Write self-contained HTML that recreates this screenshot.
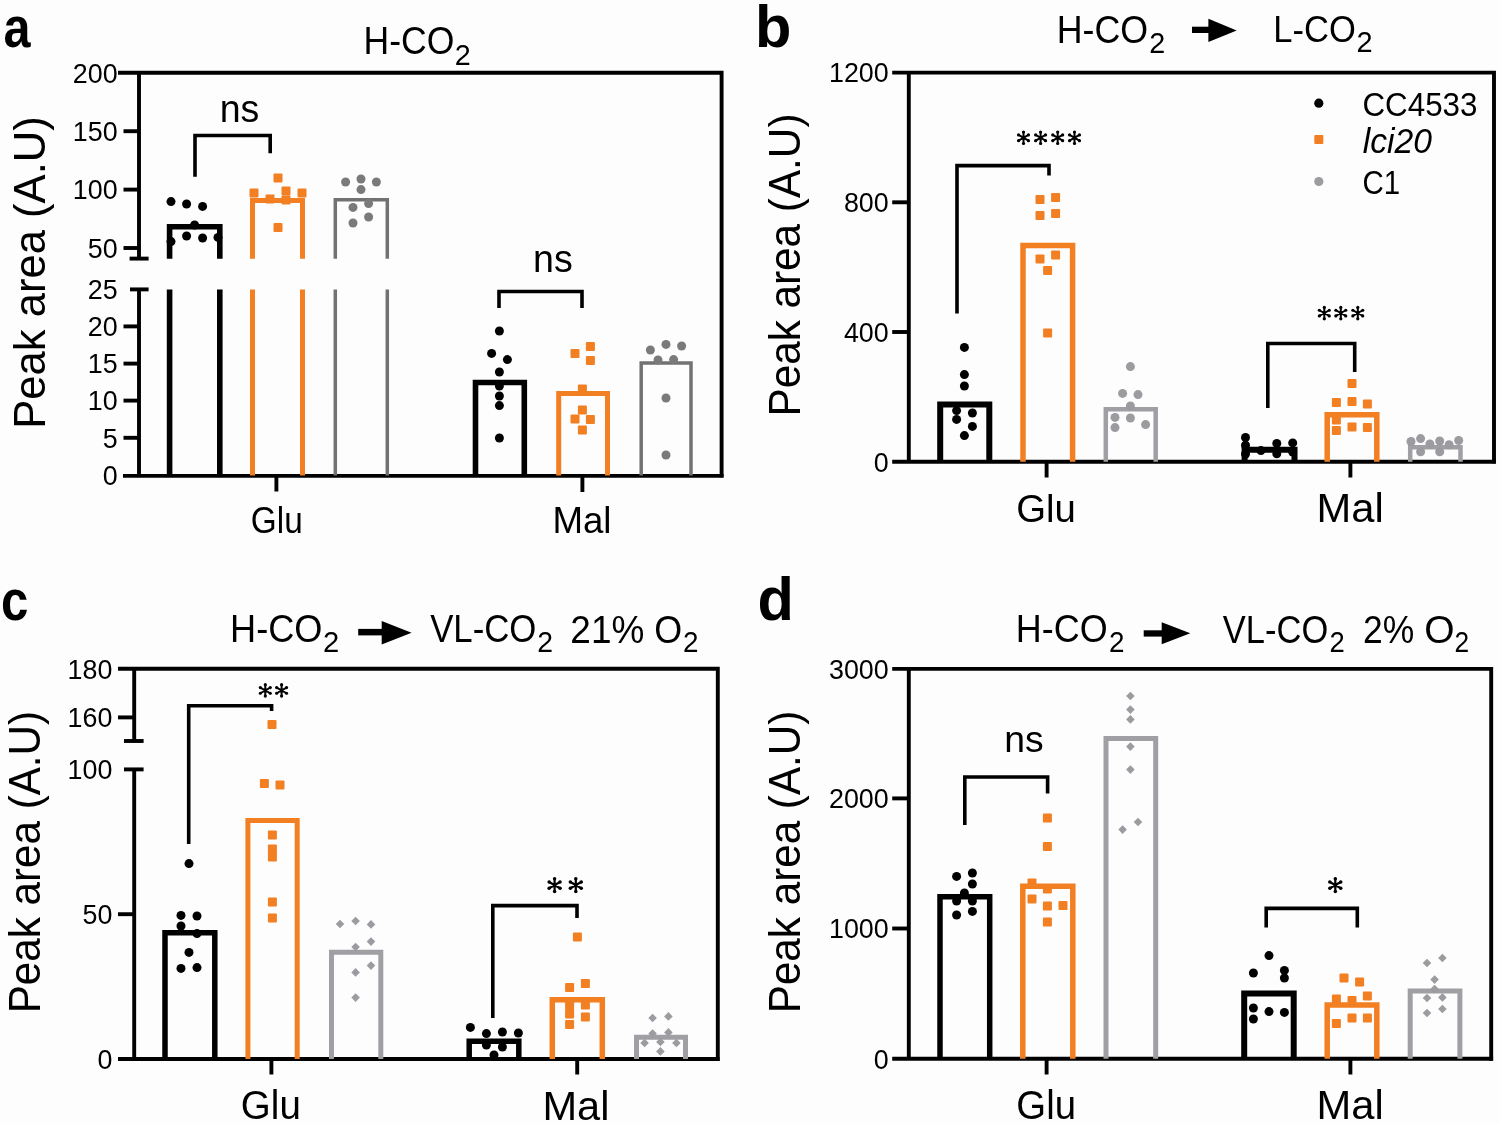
<!DOCTYPE html>
<html><head><meta charset="utf-8"><style>
html,body{margin:0;padding:0;background:#fdfdfd;}
svg{display:block;will-change:transform;}
text{font-family:"Liberation Sans",sans-serif;font-kerning:none;font-variant-ligatures:none;}
</style></head><body>
<svg width="1500" height="1124" viewBox="0 0 1500 1124">
<rect width="1500" height="1124" fill="#fdfdfd"/>
<text transform="translate(3.48 47.3) scale(0.8375 1)" font-size="58" font-weight="bold" fill="#000000">a</text>
<text transform="translate(363.58 54.12) scale(0.9184 1)" font-size="38.7" fill="#000000">H-CO</text>
<text transform="translate(454.85 64.7) scale(0.9603 1)" font-size="29.94" fill="#000000">2</text>
<text transform="translate(44.96 425.3) rotate(-90) scale(0.9735 1)" x="-3.67" font-size="44.8" fill="#000000">Peak area (A.U)</text>
<polyline points="118,72.8 721.6,72.8 721.6,477.3" fill="none" stroke="#000000" stroke-width="3.9" stroke-linejoin="miter" stroke-linecap="butt"/>
<line x1="139" y1="72.8" x2="139" y2="258.6" stroke="#000000" stroke-width="3.9"/>
<line x1="139" y1="289.4" x2="139" y2="475.9" stroke="#000000" stroke-width="3.9"/>
<line x1="123" y1="475.9" x2="723.6" y2="475.9" stroke="#000000" stroke-width="3.9"/>
<line x1="129.6" y1="258.6" x2="148.6" y2="258.6" stroke="#000000" stroke-width="3.9"/>
<line x1="130" y1="289.4" x2="148.6" y2="289.4" stroke="#000000" stroke-width="3.9"/>
<text transform="translate(72.82 82.6) scale(0.9770 1)" font-size="27.5" fill="#000000">200</text>
<line x1="123.5" y1="131.2" x2="139" y2="131.2" stroke="#000000" stroke-width="3.9"/>
<text transform="translate(72.82 141) scale(0.9770 1)" font-size="27.5" fill="#000000">150</text>
<line x1="123.5" y1="189.6" x2="139" y2="189.6" stroke="#000000" stroke-width="3.9"/>
<text transform="translate(72.82 199.4) scale(0.9770 1)" font-size="27.5" fill="#000000">100</text>
<line x1="123.5" y1="248" x2="139" y2="248" stroke="#000000" stroke-width="3.9"/>
<text transform="translate(87.76 257.8) scale(0.9770 1)" font-size="27.5" fill="#000000">50</text>
<text transform="translate(87.84 299.2) scale(0.9770 1)" font-size="27.5" fill="#000000">25</text>
<line x1="123.5" y1="326.4" x2="139" y2="326.4" stroke="#000000" stroke-width="3.9"/>
<text transform="translate(87.76 336.2) scale(0.9770 1)" font-size="27.5" fill="#000000">20</text>
<line x1="123.5" y1="363.6" x2="139" y2="363.6" stroke="#000000" stroke-width="3.9"/>
<text transform="translate(87.84 373.4) scale(0.9770 1)" font-size="27.5" fill="#000000">15</text>
<line x1="123.5" y1="400.6" x2="139" y2="400.6" stroke="#000000" stroke-width="3.9"/>
<text transform="translate(87.76 410.4) scale(0.9770 1)" font-size="27.5" fill="#000000">10</text>
<line x1="123.5" y1="437.8" x2="139" y2="437.8" stroke="#000000" stroke-width="3.9"/>
<text transform="translate(102.79 447.6) scale(0.9770 1)" font-size="27.5" fill="#000000">5</text>
<text transform="translate(102.71 485.4) scale(0.9770 1)" font-size="27.5" fill="#000000">0</text>
<line x1="276.4" y1="475.6" x2="276.4" y2="491.5" stroke="#000000" stroke-width="3.9"/>
<line x1="582.4" y1="475.6" x2="582.4" y2="492" stroke="#000000" stroke-width="3.9"/>
<text transform="translate(250.82 532.9) scale(0.9222 1)" font-size="36.16" fill="#000000">Glu</text>
<text transform="translate(552.39 533) scale(1.0098 1)" font-size="36.3" fill="#000000">Mal</text>
<polyline points="169.6,258.8 169.6,226.8 219.8,226.8 219.8,258.8" fill="none" stroke="#000000" stroke-width="5.6" stroke-linejoin="miter" stroke-linecap="butt"/>
<line x1="169.6" y1="289.4" x2="169.6" y2="475.6" stroke="#000000" stroke-width="5.6"/>
<line x1="219.8" y1="289.4" x2="219.8" y2="475.6" stroke="#000000" stroke-width="5.6"/>
<polyline points="252.5,258.8 252.5,200.5 302.5,200.5 302.5,258.8" fill="none" stroke="#F27F22" stroke-width="5" stroke-linejoin="miter" stroke-linecap="butt"/>
<line x1="252.5" y1="289.4" x2="252.5" y2="475.6" stroke="#F27F22" stroke-width="5"/>
<line x1="302.5" y1="289.4" x2="302.5" y2="475.6" stroke="#F27F22" stroke-width="5"/>
<polyline points="335.3,258.8 335.3,199.7 387.3,199.7 387.3,258.8" fill="none" stroke="#727272" stroke-width="3.5" stroke-linejoin="miter" stroke-linecap="butt"/>
<line x1="335.3" y1="289.4" x2="335.3" y2="475.6" stroke="#727272" stroke-width="3.5"/>
<line x1="387.3" y1="289.4" x2="387.3" y2="475.6" stroke="#727272" stroke-width="3.5"/>
<polyline points="475.5,475.6 475.5,382.5 524.3,382.5 524.3,475.6" fill="none" stroke="#000000" stroke-width="5.6" stroke-linejoin="miter" stroke-linecap="butt"/>
<polyline points="558.7,475.6 558.7,393.5 607.5,393.5 607.5,475.6" fill="none" stroke="#F27F22" stroke-width="5" stroke-linejoin="miter" stroke-linecap="butt"/>
<polyline points="641.2,475.6 641.2,363 691,363 691,475.6" fill="none" stroke="#727272" stroke-width="3.5" stroke-linejoin="miter" stroke-linecap="butt"/>
<circle cx="171" cy="201.6" r="4.5" fill="#000000"/>
<circle cx="186.6" cy="204" r="4.5" fill="#000000"/>
<circle cx="202.6" cy="206.4" r="4.5" fill="#000000"/>
<circle cx="194.6" cy="225" r="4.5" fill="#000000"/>
<circle cx="186.6" cy="236" r="4.5" fill="#000000"/>
<circle cx="202.6" cy="238" r="4.5" fill="#000000"/>
<circle cx="171" cy="241.6" r="4.5" fill="#000000"/>
<circle cx="218" cy="237.4" r="4.5" fill="#000000"/>
<rect x="273.5" y="173.5" width="9" height="9" rx="1" fill="#F27F22"/>
<rect x="281.5" y="186.5" width="9" height="9" rx="1" fill="#F27F22"/>
<rect x="249.5" y="188.5" width="9" height="9" rx="1" fill="#F27F22"/>
<rect x="297.5" y="188.5" width="9" height="9" rx="1" fill="#F27F22"/>
<rect x="265.5" y="194.5" width="9" height="9" rx="1" fill="#F27F22"/>
<rect x="281.5" y="195.5" width="9" height="9" rx="1" fill="#F27F22"/>
<rect x="273.5" y="223.1" width="9" height="9" rx="1" fill="#F27F22"/>
<circle cx="345.6" cy="182" r="4.5" fill="#7a7a7a"/>
<circle cx="361" cy="179" r="4.5" fill="#7a7a7a"/>
<circle cx="376.4" cy="182" r="4.5" fill="#7a7a7a"/>
<circle cx="361" cy="189.6" r="4.5" fill="#7a7a7a"/>
<circle cx="353" cy="207.4" r="4.5" fill="#7a7a7a"/>
<circle cx="368.6" cy="203.6" r="4.5" fill="#7a7a7a"/>
<circle cx="368.6" cy="217" r="4.5" fill="#7a7a7a"/>
<circle cx="353" cy="223" r="4.5" fill="#7a7a7a"/>
<circle cx="499.4" cy="331" r="4.5" fill="#000000"/>
<circle cx="491.6" cy="353.4" r="4.5" fill="#000000"/>
<circle cx="507.4" cy="359.6" r="4.5" fill="#000000"/>
<circle cx="499.4" cy="372" r="4.5" fill="#000000"/>
<circle cx="499.4" cy="386" r="4.5" fill="#000000"/>
<circle cx="499.4" cy="396" r="4.5" fill="#000000"/>
<circle cx="499.4" cy="405.6" r="4.5" fill="#000000"/>
<circle cx="499.4" cy="438" r="4.5" fill="#000000"/>
<rect x="585.9" y="341.9" width="9" height="9" rx="1" fill="#F27F22"/>
<rect x="570.5" y="349.1" width="9" height="9" rx="1" fill="#F27F22"/>
<rect x="585.9" y="355.9" width="9" height="9" rx="1" fill="#F27F22"/>
<rect x="577.9" y="384.5" width="9" height="9" rx="1" fill="#F27F22"/>
<rect x="577.9" y="405.5" width="9" height="9" rx="1" fill="#F27F22"/>
<rect x="570.5" y="414.5" width="9" height="9" rx="1" fill="#F27F22"/>
<rect x="585.9" y="415.1" width="9" height="9" rx="1" fill="#F27F22"/>
<rect x="577.9" y="425.5" width="9" height="9" rx="1" fill="#F27F22"/>
<circle cx="650.4" cy="350" r="4.5" fill="#7a7a7a"/>
<circle cx="666" cy="344.4" r="4.5" fill="#7a7a7a"/>
<circle cx="681.6" cy="346" r="4.5" fill="#7a7a7a"/>
<circle cx="658" cy="360" r="4.5" fill="#7a7a7a"/>
<circle cx="673.6" cy="359.6" r="4.5" fill="#7a7a7a"/>
<circle cx="666" cy="398" r="4.5" fill="#7a7a7a"/>
<circle cx="666" cy="455" r="4.5" fill="#7a7a7a"/>
<polyline points="195,176.7 195,135.5 270.2,135.5 270.2,153.3" fill="none" stroke="#000000" stroke-width="3.6" stroke-linejoin="miter" stroke-linecap="butt"/>
<text transform="translate(219.71 122) scale(0.9659 1)" font-size="38.87" fill="#000000">ns</text>
<polyline points="499,308 499,291.5 582,291.5 582,308" fill="none" stroke="#000000" stroke-width="3.6" stroke-linejoin="miter" stroke-linecap="butt"/>
<text transform="translate(533.01 271.8) scale(0.9704 1)" font-size="38.69" fill="#000000">ns</text>
<text transform="translate(755.08 47.4) scale(0.9939 1)" font-size="59.9" font-weight="bold" fill="#000000">b</text>
<text transform="translate(1056.66 42.53) scale(0.9420 1)" font-size="37.99" fill="#000000">H-CO</text>
<text transform="translate(1149.35 52.9) scale(0.9512 1)" font-size="30.23" fill="#000000">2</text>
<rect x="1192" y="26.7" width="17.3" height="6.3" fill="#000"/>
<path d="M1208.4 18.7L1236.7 30.4L1208.4 42.1Z" fill="#000"/>
<text transform="translate(1273.37 42.43) scale(0.9121 1)" font-size="37.85" fill="#000000">L-CO</text>
<text transform="translate(1356.54 52.4) scale(0.9914 1)" font-size="29.23" fill="#000000">2</text>
<text transform="translate(800.16 413.1) rotate(-90) scale(0.9436 1)" x="-3.67" font-size="44.8" fill="#000000">Peak area (A.U)</text>
<polyline points="892.2,72.6 1494,72.6 1494,463.6" fill="none" stroke="#000000" stroke-width="3.9" stroke-linejoin="miter" stroke-linecap="butt"/>
<line x1="908.8" y1="72.6" x2="908.8" y2="461.8" stroke="#000000" stroke-width="3.9"/>
<line x1="892.2" y1="461.8" x2="1495.8" y2="461.8" stroke="#000000" stroke-width="3.9"/>
<text transform="translate(828.98 82.4) scale(0.9770 1)" font-size="27.5" fill="#000000">1200</text>
<line x1="892.2" y1="202.3" x2="908.8" y2="202.3" stroke="#000000" stroke-width="3.9"/>
<text transform="translate(843.92 212.1) scale(0.9770 1)" font-size="27.5" fill="#000000">800</text>
<line x1="892.2" y1="332" x2="908.8" y2="332" stroke="#000000" stroke-width="3.9"/>
<text transform="translate(843.92 341.8) scale(0.9770 1)" font-size="27.5" fill="#000000">400</text>
<text transform="translate(873.81 471.6) scale(0.9770 1)" font-size="27.5" fill="#000000">0</text>
<line x1="1046.6" y1="461.8" x2="1046.6" y2="477.5" stroke="#000000" stroke-width="3.9"/>
<line x1="1350.4" y1="461.8" x2="1350.4" y2="477.5" stroke="#000000" stroke-width="3.9"/>
<text transform="translate(1016.17 522.1) scale(0.9716 1)" font-size="39.47" fill="#000000">Glu</text>
<text transform="translate(1316.48 522.1) scale(1.0495 1)" font-size="39.75" fill="#000000">Mal</text>
<polyline points="940.2,461.8 940.2,404.5 989.3,404.5 989.3,461.8" fill="none" stroke="#000000" stroke-width="6" stroke-linejoin="miter" stroke-linecap="butt"/>
<polyline points="1023,461.8 1023,245.4 1072.6,245.4 1072.6,461.8" fill="none" stroke="#F27F22" stroke-width="5.5" stroke-linejoin="miter" stroke-linecap="butt"/>
<polyline points="1105.8,461.8 1105.8,409.3 1155.7,409.3 1155.7,461.8" fill="none" stroke="#A0A0A4" stroke-width="4.5" stroke-linejoin="miter" stroke-linecap="butt"/>
<polyline points="1244.6,461.8 1244.6,449.8 1294.5,449.8 1294.5,461.8" fill="none" stroke="#000000" stroke-width="6" stroke-linejoin="miter" stroke-linecap="butt"/>
<polyline points="1327.2,461.8 1327.2,414.8 1376.8,414.8 1376.8,461.8" fill="none" stroke="#F27F22" stroke-width="5.5" stroke-linejoin="miter" stroke-linecap="butt"/>
<polyline points="1410.2,461.8 1410.2,447.3 1460.5,447.3 1460.5,461.8" fill="none" stroke="#A0A0A4" stroke-width="4.5" stroke-linejoin="miter" stroke-linecap="butt"/>
<circle cx="964.4" cy="347.4" r="4.5" fill="#000000"/>
<circle cx="964.4" cy="374.6" r="4.5" fill="#000000"/>
<circle cx="964.4" cy="386" r="4.5" fill="#000000"/>
<circle cx="956.6" cy="410.6" r="4.5" fill="#000000"/>
<circle cx="972.4" cy="413" r="4.5" fill="#000000"/>
<circle cx="956.6" cy="419.4" r="4.5" fill="#000000"/>
<circle cx="972.4" cy="426.4" r="4.5" fill="#000000"/>
<circle cx="964.4" cy="435.6" r="4.5" fill="#000000"/>
<rect x="1035.5" y="195.1" width="9" height="9" rx="1" fill="#F27F22"/>
<rect x="1051.1" y="193.1" width="9" height="9" rx="1" fill="#F27F22"/>
<rect x="1035.5" y="210.9" width="9" height="9" rx="1" fill="#F27F22"/>
<rect x="1051.1" y="209.1" width="9" height="9" rx="1" fill="#F27F22"/>
<rect x="1035.5" y="254.5" width="9" height="9" rx="1" fill="#F27F22"/>
<rect x="1051.1" y="250.5" width="9" height="9" rx="1" fill="#F27F22"/>
<rect x="1043.1" y="265.9" width="9" height="9" rx="1" fill="#F27F22"/>
<rect x="1043.1" y="328.5" width="9" height="9" rx="1" fill="#F27F22"/>
<circle cx="1130.4" cy="366.6" r="4.5" fill="#9C9CA0"/>
<circle cx="1122.6" cy="393.4" r="4.5" fill="#9C9CA0"/>
<circle cx="1138" cy="394.6" r="4.5" fill="#9C9CA0"/>
<circle cx="1130.4" cy="406" r="4.5" fill="#9C9CA0"/>
<circle cx="1115" cy="417.4" r="4.5" fill="#9C9CA0"/>
<circle cx="1130.4" cy="418" r="4.5" fill="#9C9CA0"/>
<circle cx="1145.6" cy="424.6" r="4.5" fill="#9C9CA0"/>
<circle cx="1115" cy="427.6" r="4.5" fill="#9C9CA0"/>
<circle cx="1245.5" cy="437.5" r="4.5" fill="#000000"/>
<circle cx="1245.5" cy="445.3" r="4.5" fill="#000000"/>
<circle cx="1245.5" cy="454" r="4.5" fill="#000000"/>
<circle cx="1260.9" cy="450.6" r="4.5" fill="#000000"/>
<circle cx="1276.8" cy="443.4" r="4.5" fill="#000000"/>
<circle cx="1276.8" cy="453.8" r="4.5" fill="#000000"/>
<circle cx="1292.7" cy="442.9" r="4.5" fill="#000000"/>
<circle cx="1292.7" cy="452" r="4.5" fill="#000000"/>
<rect x="1347.5" y="379.1" width="9" height="9" rx="1" fill="#F27F22"/>
<rect x="1331.9" y="397.9" width="9" height="9" rx="1" fill="#F27F22"/>
<rect x="1347.5" y="397.1" width="9" height="9" rx="1" fill="#F27F22"/>
<rect x="1362.9" y="399.5" width="9" height="9" rx="1" fill="#F27F22"/>
<rect x="1331.9" y="415.5" width="9" height="9" rx="1" fill="#F27F22"/>
<rect x="1331.9" y="425.9" width="9" height="9" rx="1" fill="#F27F22"/>
<rect x="1347.5" y="422.5" width="9" height="9" rx="1" fill="#F27F22"/>
<rect x="1362.9" y="423.1" width="9" height="9" rx="1" fill="#F27F22"/>
<circle cx="1411" cy="441.5" r="4.5" fill="#9C9CA0"/>
<circle cx="1420.6" cy="438.6" r="4.5" fill="#9C9CA0"/>
<circle cx="1429.9" cy="443.9" r="4.5" fill="#9C9CA0"/>
<circle cx="1420.6" cy="451.7" r="4.5" fill="#9C9CA0"/>
<circle cx="1439.7" cy="441" r="4.5" fill="#9C9CA0"/>
<circle cx="1439.7" cy="451.7" r="4.5" fill="#9C9CA0"/>
<circle cx="1449.1" cy="444.7" r="4.5" fill="#9C9CA0"/>
<circle cx="1458.7" cy="440.5" r="4.5" fill="#9C9CA0"/>
<polyline points="957,313.6 957,165.6 1049,165.6 1049,175.6" fill="none" stroke="#000000" stroke-width="3.6" stroke-linejoin="miter" stroke-linecap="butt"/>
<circle cx="1023.5" cy="132.1" r="1.6" fill="#000000"/>
<circle cx="1023.5" cy="143.5" r="1.6" fill="#000000"/>
<circle cx="1028.44" cy="134.95" r="1.6" fill="#000000"/>
<circle cx="1018.56" cy="140.65" r="1.6" fill="#000000"/>
<circle cx="1028.44" cy="140.65" r="1.6" fill="#000000"/>
<circle cx="1018.56" cy="134.95" r="1.6" fill="#000000"/>
<path d="M1023.5 143.5L1023.5 132.1M1018.56 140.65L1028.44 134.95M1018.56 134.95L1028.44 140.65" stroke="#000" stroke-width="2" stroke-linecap="round" fill="none"/>
<circle cx="1023.5" cy="137.8" r="1.8" fill="#000000"/>
<circle cx="1040.6" cy="132.1" r="1.6" fill="#000000"/>
<circle cx="1040.6" cy="143.5" r="1.6" fill="#000000"/>
<circle cx="1045.54" cy="134.95" r="1.6" fill="#000000"/>
<circle cx="1035.66" cy="140.65" r="1.6" fill="#000000"/>
<circle cx="1045.54" cy="140.65" r="1.6" fill="#000000"/>
<circle cx="1035.66" cy="134.95" r="1.6" fill="#000000"/>
<path d="M1040.6 143.5L1040.6 132.1M1035.66 140.65L1045.54 134.95M1035.66 134.95L1045.54 140.65" stroke="#000" stroke-width="2" stroke-linecap="round" fill="none"/>
<circle cx="1040.6" cy="137.8" r="1.8" fill="#000000"/>
<circle cx="1057.7" cy="132.1" r="1.6" fill="#000000"/>
<circle cx="1057.7" cy="143.5" r="1.6" fill="#000000"/>
<circle cx="1062.64" cy="134.95" r="1.6" fill="#000000"/>
<circle cx="1052.76" cy="140.65" r="1.6" fill="#000000"/>
<circle cx="1062.64" cy="140.65" r="1.6" fill="#000000"/>
<circle cx="1052.76" cy="134.95" r="1.6" fill="#000000"/>
<path d="M1057.7 143.5L1057.7 132.1M1052.76 140.65L1062.64 134.95M1052.76 134.95L1062.64 140.65" stroke="#000" stroke-width="2" stroke-linecap="round" fill="none"/>
<circle cx="1057.7" cy="137.8" r="1.8" fill="#000000"/>
<circle cx="1074.5" cy="132.1" r="1.6" fill="#000000"/>
<circle cx="1074.5" cy="143.5" r="1.6" fill="#000000"/>
<circle cx="1079.44" cy="134.95" r="1.6" fill="#000000"/>
<circle cx="1069.56" cy="140.65" r="1.6" fill="#000000"/>
<circle cx="1079.44" cy="140.65" r="1.6" fill="#000000"/>
<circle cx="1069.56" cy="134.95" r="1.6" fill="#000000"/>
<path d="M1074.5 143.5L1074.5 132.1M1069.56 140.65L1079.44 134.95M1069.56 134.95L1079.44 140.65" stroke="#000" stroke-width="2" stroke-linecap="round" fill="none"/>
<circle cx="1074.5" cy="137.8" r="1.8" fill="#000000"/>
<polyline points="1267.8,408 1267.8,343.5 1354.7,343.5 1354.7,372" fill="none" stroke="#000000" stroke-width="3.6" stroke-linejoin="miter" stroke-linecap="butt"/>
<circle cx="1324.3" cy="307.4" r="1.6" fill="#000000"/>
<circle cx="1324.3" cy="318.8" r="1.6" fill="#000000"/>
<circle cx="1329.24" cy="310.25" r="1.6" fill="#000000"/>
<circle cx="1319.36" cy="315.95" r="1.6" fill="#000000"/>
<circle cx="1329.24" cy="315.95" r="1.6" fill="#000000"/>
<circle cx="1319.36" cy="310.25" r="1.6" fill="#000000"/>
<path d="M1324.3 318.8L1324.3 307.4M1319.36 315.95L1329.24 310.25M1319.36 310.25L1329.24 315.95" stroke="#000" stroke-width="2" stroke-linecap="round" fill="none"/>
<circle cx="1324.3" cy="313.1" r="1.8" fill="#000000"/>
<circle cx="1340.8" cy="307.4" r="1.6" fill="#000000"/>
<circle cx="1340.8" cy="318.8" r="1.6" fill="#000000"/>
<circle cx="1345.74" cy="310.25" r="1.6" fill="#000000"/>
<circle cx="1335.86" cy="315.95" r="1.6" fill="#000000"/>
<circle cx="1345.74" cy="315.95" r="1.6" fill="#000000"/>
<circle cx="1335.86" cy="310.25" r="1.6" fill="#000000"/>
<path d="M1340.8 318.8L1340.8 307.4M1335.86 315.95L1345.74 310.25M1335.86 310.25L1345.74 315.95" stroke="#000" stroke-width="2" stroke-linecap="round" fill="none"/>
<circle cx="1340.8" cy="313.1" r="1.8" fill="#000000"/>
<circle cx="1357.8" cy="307.4" r="1.6" fill="#000000"/>
<circle cx="1357.8" cy="318.8" r="1.6" fill="#000000"/>
<circle cx="1362.74" cy="310.25" r="1.6" fill="#000000"/>
<circle cx="1352.86" cy="315.95" r="1.6" fill="#000000"/>
<circle cx="1362.74" cy="315.95" r="1.6" fill="#000000"/>
<circle cx="1352.86" cy="310.25" r="1.6" fill="#000000"/>
<path d="M1357.8 318.8L1357.8 307.4M1352.86 315.95L1362.74 310.25M1352.86 310.25L1362.74 315.95" stroke="#000" stroke-width="2" stroke-linecap="round" fill="none"/>
<circle cx="1357.8" cy="313.1" r="1.8" fill="#000000"/>
<circle cx="1318.8" cy="103.2" r="4.6" fill="#000000"/>
<text transform="translate(1362.41 115.7) scale(0.9504 1)" font-size="33" fill="#000000">CC4533</text>
<rect x="1314.3" y="134.9" width="9" height="9" rx="1" fill="#F27F22"/>
<text transform="translate(1362.76 152.6) scale(0.9616 1)" font-size="35" font-style="italic" fill="#000000">lci20</text>
<circle cx="1318.8" cy="181.5" r="4.6" fill="#9C9CA0"/>
<text transform="translate(1362.5 193.7) scale(0.9112 1)" font-size="32.4" fill="#000000">C1</text>
<text transform="translate(1.08 620.4) scale(0.8483 1)" font-size="58" font-weight="bold" fill="#000000">c</text>
<text transform="translate(230.03 642.12) scale(0.9412 1)" font-size="38.42" fill="#000000">H-CO</text>
<text transform="translate(323.03 652.3) scale(0.9612 1)" font-size="30.37" fill="#000000">2</text>
<rect x="358.2" y="628.9" width="24" height="6.5" fill="#000"/>
<path d="M381.7 621L411.6 632.75L381.7 644.5Z" fill="#000"/>
<text transform="translate(430.15 642.22) scale(0.8948 1)" font-size="38.84" fill="#000000">VL-CO</text>
<text transform="translate(537.18 652.2) scale(0.9785 1)" font-size="28.94" fill="#000000">2</text>
<text transform="translate(570.34 642.61) scale(0.9346 1)" font-size="39.55" fill="#000000">21%</text>
<text transform="translate(654.3 642.61) scale(0.9075 1)" font-size="39.55" fill="#000000">O</text>
<text transform="translate(683.1 652) scale(0.9355 1)" font-size="29.8" fill="#000000">2</text>
<text transform="translate(39.56 1009.8) rotate(-90) scale(0.9414 1)" x="-3.67" font-size="44.8" fill="#000000">Peak area (A.U)</text>
<polyline points="118,668.7 717.8,668.7 717.8,1061" fill="none" stroke="#000000" stroke-width="3.9" stroke-linejoin="miter" stroke-linecap="butt"/>
<line x1="134.2" y1="668.7" x2="134.2" y2="741" stroke="#000000" stroke-width="3.9"/>
<line x1="134.2" y1="769.4" x2="134.2" y2="1059" stroke="#000000" stroke-width="3.9"/>
<line x1="118" y1="1059" x2="719.6" y2="1059" stroke="#000000" stroke-width="3.9"/>
<line x1="124" y1="741" x2="143.6" y2="741" stroke="#000000" stroke-width="3.9"/>
<line x1="124" y1="769.4" x2="143.6" y2="769.4" stroke="#000000" stroke-width="3.9"/>
<text transform="translate(67.62 678.5) scale(0.9770 1)" font-size="27.5" fill="#000000">180</text>
<line x1="118" y1="717.4" x2="134.2" y2="717.4" stroke="#000000" stroke-width="3.9"/>
<text transform="translate(67.62 727.2) scale(0.9770 1)" font-size="27.5" fill="#000000">160</text>
<text transform="translate(67.62 779.2) scale(0.9770 1)" font-size="27.5" fill="#000000">100</text>
<line x1="118" y1="914.2" x2="134.2" y2="914.2" stroke="#000000" stroke-width="3.9"/>
<text transform="translate(82.56 924) scale(0.9770 1)" font-size="27.5" fill="#000000">50</text>
<text transform="translate(97.51 1068.8) scale(0.9770 1)" font-size="27.5" fill="#000000">0</text>
<line x1="271.4" y1="1059" x2="271.4" y2="1074.5" stroke="#000000" stroke-width="3.9"/>
<line x1="577.2" y1="1059" x2="577.2" y2="1074.5" stroke="#000000" stroke-width="3.9"/>
<text transform="translate(240.86 1119.2) scale(0.9701 1)" font-size="39.75" fill="#000000">Glu</text>
<text transform="translate(542.49 1119.5) scale(1.0352 1)" font-size="40.16" fill="#000000">Mal</text>
<polyline points="165,1059 165,932.8 214.8,932.8 214.8,1059" fill="none" stroke="#000000" stroke-width="5.5" stroke-linejoin="miter" stroke-linecap="butt"/>
<polyline points="247.9,1059 247.9,820.5 297.2,820.5 297.2,1059" fill="none" stroke="#F27F22" stroke-width="5" stroke-linejoin="miter" stroke-linecap="butt"/>
<polyline points="331.5,1059 331.5,952.3 380.8,952.3 380.8,1059" fill="none" stroke="#A0A0A4" stroke-width="5" stroke-linejoin="miter" stroke-linecap="butt"/>
<polyline points="469.2,1059 469.2,1041.3 518.8,1041.3 518.8,1059" fill="none" stroke="#000000" stroke-width="5.5" stroke-linejoin="miter" stroke-linecap="butt"/>
<polyline points="552.3,1059 552.3,999.8 602.3,999.8 602.3,1059" fill="none" stroke="#F27F22" stroke-width="5.5" stroke-linejoin="miter" stroke-linecap="butt"/>
<polyline points="636.5,1059 636.5,1037.2 685.5,1037.2 685.5,1059" fill="none" stroke="#A0A0A4" stroke-width="5" stroke-linejoin="miter" stroke-linecap="butt"/>
<circle cx="189" cy="863.6" r="4.5" fill="#000000"/>
<circle cx="181" cy="915.4" r="4.5" fill="#000000"/>
<circle cx="197" cy="916" r="4.5" fill="#000000"/>
<circle cx="181" cy="926" r="4.5" fill="#000000"/>
<circle cx="197" cy="933.6" r="4.5" fill="#000000"/>
<circle cx="189" cy="952.4" r="4.5" fill="#000000"/>
<circle cx="181" cy="968.4" r="4.5" fill="#000000"/>
<circle cx="197" cy="967.6" r="4.5" fill="#000000"/>
<rect x="267.5" y="719.9" width="9" height="9" rx="1" fill="#F27F22"/>
<rect x="259.9" y="779.1" width="9" height="9" rx="1" fill="#F27F22"/>
<rect x="275.5" y="780.5" width="9" height="9" rx="1" fill="#F27F22"/>
<rect x="267.9" y="830.5" width="9" height="9" rx="1" fill="#F27F22"/>
<rect x="267.9" y="844.5" width="9" height="9" rx="1" fill="#F27F22"/>
<rect x="267.9" y="852.5" width="9" height="9" rx="1" fill="#F27F22"/>
<rect x="267.9" y="897.5" width="9" height="9" rx="1" fill="#F27F22"/>
<rect x="267.9" y="913.5" width="9" height="9" rx="1" fill="#F27F22"/>
<path d="M340 919.7L344.3 924L340 928.3L335.7 924Z" fill="#9C9CA0"/>
<path d="M355.6 916.7L359.9 921L355.6 925.3L351.3 921Z" fill="#9C9CA0"/>
<path d="M371 920.1L375.3 924.4L371 928.7L366.7 924.4Z" fill="#9C9CA0"/>
<path d="M371 937.3L375.3 941.6L371 945.9L366.7 941.6Z" fill="#9C9CA0"/>
<path d="M355.6 942.7L359.9 947L355.6 951.3L351.3 947Z" fill="#9C9CA0"/>
<path d="M371 961.3L375.3 965.6L371 969.9L366.7 965.6Z" fill="#9C9CA0"/>
<path d="M355.6 968.1L359.9 972.4L355.6 976.7L351.3 972.4Z" fill="#9C9CA0"/>
<path d="M355.6 993.3L359.9 997.6L355.6 1001.9L351.3 997.6Z" fill="#9C9CA0"/>
<circle cx="470.4" cy="1027.4" r="4.5" fill="#000000"/>
<circle cx="486.4" cy="1033.6" r="4.5" fill="#000000"/>
<circle cx="502.4" cy="1032" r="4.5" fill="#000000"/>
<circle cx="518.4" cy="1033" r="4.5" fill="#000000"/>
<circle cx="486.4" cy="1045" r="4.5" fill="#000000"/>
<circle cx="502.4" cy="1047" r="4.5" fill="#000000"/>
<circle cx="494" cy="1055" r="4.5" fill="#000000"/>
<rect x="572.9" y="932.5" width="9" height="9" rx="1" fill="#F27F22"/>
<rect x="565.1" y="982.9" width="9" height="9" rx="1" fill="#F27F22"/>
<rect x="580.9" y="979.1" width="9" height="9" rx="1" fill="#F27F22"/>
<rect x="565.1" y="1001.1" width="9" height="9" rx="1" fill="#F27F22"/>
<rect x="580.9" y="1000.5" width="9" height="9" rx="1" fill="#F27F22"/>
<rect x="565.1" y="1009.5" width="9" height="9" rx="1" fill="#F27F22"/>
<rect x="580.9" y="1012.5" width="9" height="9" rx="1" fill="#F27F22"/>
<rect x="565.1" y="1019.9" width="9" height="9" rx="1" fill="#F27F22"/>
<path d="M652.6 1013.7L656.9 1018L652.6 1022.3L648.3 1018Z" fill="#9C9CA0"/>
<path d="M668.4 1012.1L672.7 1016.4L668.4 1020.7L664.1 1016.4Z" fill="#9C9CA0"/>
<path d="M652.6 1029.3L656.9 1033.6L652.6 1037.9L648.3 1033.6Z" fill="#9C9CA0"/>
<path d="M668.4 1028.1L672.7 1032.4L668.4 1036.7L664.1 1032.4Z" fill="#9C9CA0"/>
<path d="M644.6 1038.7L648.9 1043L644.6 1047.3L640.3 1043Z" fill="#9C9CA0"/>
<path d="M660.4 1037.7L664.7 1042L660.4 1046.3L656.1 1042Z" fill="#9C9CA0"/>
<path d="M676.4 1038.7L680.7 1043L676.4 1047.3L672.1 1043Z" fill="#9C9CA0"/>
<path d="M660.4 1047.1L664.7 1051.4L660.4 1055.7L656.1 1051.4Z" fill="#9C9CA0"/>
<polyline points="188.7,844 188.7,705.8 271.6,705.8 271.6,711" fill="none" stroke="#000000" stroke-width="3.6" stroke-linejoin="miter" stroke-linecap="butt"/>
<circle cx="265.3" cy="684.7" r="1.6" fill="#000000"/>
<circle cx="265.3" cy="696.1" r="1.6" fill="#000000"/>
<circle cx="270.24" cy="687.55" r="1.6" fill="#000000"/>
<circle cx="260.36" cy="693.25" r="1.6" fill="#000000"/>
<circle cx="270.24" cy="693.25" r="1.6" fill="#000000"/>
<circle cx="260.36" cy="687.55" r="1.6" fill="#000000"/>
<path d="M265.3 696.1L265.3 684.7M260.36 693.25L270.24 687.55M260.36 687.55L270.24 693.25" stroke="#000" stroke-width="2" stroke-linecap="round" fill="none"/>
<circle cx="265.3" cy="690.4" r="1.8" fill="#000000"/>
<circle cx="281.6" cy="684.7" r="1.6" fill="#000000"/>
<circle cx="281.6" cy="696.1" r="1.6" fill="#000000"/>
<circle cx="286.54" cy="687.55" r="1.6" fill="#000000"/>
<circle cx="276.66" cy="693.25" r="1.6" fill="#000000"/>
<circle cx="286.54" cy="693.25" r="1.6" fill="#000000"/>
<circle cx="276.66" cy="687.55" r="1.6" fill="#000000"/>
<path d="M281.6 696.1L281.6 684.7M276.66 693.25L286.54 687.55M276.66 687.55L286.54 693.25" stroke="#000" stroke-width="2" stroke-linecap="round" fill="none"/>
<circle cx="281.6" cy="690.4" r="1.8" fill="#000000"/>
<polyline points="492.8,1018 492.8,905.6 577,905.6 577,918" fill="none" stroke="#000000" stroke-width="3.6" stroke-linejoin="miter" stroke-linecap="butt"/>
<circle cx="554.6" cy="878.8" r="1.75" fill="#000000"/>
<circle cx="554.6" cy="891.4" r="1.75" fill="#000000"/>
<circle cx="560.06" cy="881.95" r="1.75" fill="#000000"/>
<circle cx="549.14" cy="888.25" r="1.75" fill="#000000"/>
<circle cx="560.06" cy="888.25" r="1.75" fill="#000000"/>
<circle cx="549.14" cy="881.95" r="1.75" fill="#000000"/>
<path d="M554.6 891.4L554.6 878.8M549.14 888.25L560.06 881.95M549.14 881.95L560.06 888.25" stroke="#000" stroke-width="2.2" stroke-linecap="round" fill="none"/>
<circle cx="554.6" cy="885.1" r="1.98" fill="#000000"/>
<circle cx="575.8" cy="878.8" r="1.75" fill="#000000"/>
<circle cx="575.8" cy="891.4" r="1.75" fill="#000000"/>
<circle cx="581.26" cy="881.95" r="1.75" fill="#000000"/>
<circle cx="570.34" cy="888.25" r="1.75" fill="#000000"/>
<circle cx="581.26" cy="888.25" r="1.75" fill="#000000"/>
<circle cx="570.34" cy="881.95" r="1.75" fill="#000000"/>
<path d="M575.8 891.4L575.8 878.8M570.34 888.25L581.26 881.95M570.34 881.95L581.26 888.25" stroke="#000" stroke-width="2.2" stroke-linecap="round" fill="none"/>
<circle cx="575.8" cy="885.1" r="1.98" fill="#000000"/>
<text transform="translate(757.56 620.4) scale(0.9840 1)" font-size="60.5" font-weight="bold" fill="#000000">d</text>
<text transform="translate(1015.75 642.12) scale(0.9393 1)" font-size="38.28" fill="#000000">H-CO</text>
<text transform="translate(1108.9 652.3) scale(0.9446 1)" font-size="29.51" fill="#000000">2</text>
<rect x="1143.7" y="630.3" width="18.6" height="6.3" fill="#000"/>
<path d="M1161.7 622.3L1190.3 633.3L1161.7 644.3Z" fill="#000"/>
<text transform="translate(1222.85 642.62) scale(0.8912 1)" font-size="38.7" fill="#000000">VL-CO</text>
<text transform="translate(1329.62 652.4) scale(0.9297 1)" font-size="29.51" fill="#000000">2</text>
<text transform="translate(1363.02 642.62) scale(0.9162 1)" font-size="38.7" fill="#000000">2%</text>
<text transform="translate(1424.15 642.62) scale(1.0069 1)" font-size="38.7" fill="#000000">O</text>
<text transform="translate(1454.38 652.4) scale(0.8925 1)" font-size="29.51" fill="#000000">2</text>
<text transform="translate(800.16 1009.8) rotate(-90) scale(0.9424 1)" x="-3.67" font-size="44.8" fill="#000000">Peak area (A.U)</text>
<polyline points="892.2,668.9 1491.2,668.9 1491.2,1060.7" fill="none" stroke="#000000" stroke-width="3.9" stroke-linejoin="miter" stroke-linecap="butt"/>
<line x1="908.8" y1="668.9" x2="908.8" y2="1058.7" stroke="#000000" stroke-width="3.9"/>
<line x1="892.2" y1="1058.7" x2="1493.1" y2="1058.7" stroke="#000000" stroke-width="3.9"/>
<text transform="translate(828.98 678.7) scale(0.9770 1)" font-size="27.5" fill="#000000">3000</text>
<line x1="892.2" y1="798.4" x2="908.8" y2="798.4" stroke="#000000" stroke-width="3.9"/>
<text transform="translate(828.98 808.2) scale(0.9770 1)" font-size="27.5" fill="#000000">2000</text>
<line x1="892.2" y1="928.5" x2="908.8" y2="928.5" stroke="#000000" stroke-width="3.9"/>
<text transform="translate(828.98 938.3) scale(0.9770 1)" font-size="27.5" fill="#000000">1000</text>
<text transform="translate(873.81 1068.5) scale(0.9770 1)" font-size="27.5" fill="#000000">0</text>
<line x1="1046.6" y1="1058.7" x2="1046.6" y2="1074.5" stroke="#000000" stroke-width="3.9"/>
<line x1="1350.4" y1="1058.7" x2="1350.4" y2="1074.5" stroke="#000000" stroke-width="3.9"/>
<text transform="translate(1016.37 1119.2) scale(0.9648 1)" font-size="39.75" fill="#000000">Glu</text>
<text transform="translate(1316.48 1119.3) scale(1.0458 1)" font-size="39.88" fill="#000000">Mal</text>
<polyline points="940,1058.7 940,896.8 989.7,896.8 989.7,1058.7" fill="none" stroke="#000000" stroke-width="5.5" stroke-linejoin="miter" stroke-linecap="butt"/>
<polyline points="1022.8,1058.7 1022.8,886.3 1072.8,886.3 1072.8,1058.7" fill="none" stroke="#F27F22" stroke-width="5.5" stroke-linejoin="miter" stroke-linecap="butt"/>
<polyline points="1106,1058.7 1106,738.6 1155.7,738.6 1155.7,1058.7" fill="none" stroke="#A0A0A4" stroke-width="5" stroke-linejoin="miter" stroke-linecap="butt"/>
<polyline points="1244.2,1058.7 1244.2,993.4 1293.7,993.4 1293.7,1058.7" fill="none" stroke="#000000" stroke-width="6" stroke-linejoin="miter" stroke-linecap="butt"/>
<polyline points="1327.2,1058.7 1327.2,1005 1376.8,1005 1376.8,1058.7" fill="none" stroke="#F27F22" stroke-width="5.5" stroke-linejoin="miter" stroke-linecap="butt"/>
<polyline points="1410.2,1058.7 1410.2,991 1459.9,991 1459.9,1058.7" fill="none" stroke="#A0A0A4" stroke-width="5" stroke-linejoin="miter" stroke-linecap="butt"/>
<circle cx="956.6" cy="876.4" r="4.5" fill="#000000"/>
<circle cx="972.4" cy="873" r="4.5" fill="#000000"/>
<circle cx="972.4" cy="884" r="4.5" fill="#000000"/>
<circle cx="964.4" cy="893" r="4.5" fill="#000000"/>
<circle cx="956.6" cy="901" r="4.5" fill="#000000"/>
<circle cx="972.4" cy="901" r="4.5" fill="#000000"/>
<circle cx="956.6" cy="915" r="4.5" fill="#000000"/>
<circle cx="972.4" cy="911.4" r="4.5" fill="#000000"/>
<rect x="1042.9" y="813.5" width="9" height="9" rx="1" fill="#F27F22"/>
<rect x="1042.9" y="842.1" width="9" height="9" rx="1" fill="#F27F22"/>
<rect x="1027.5" y="878.5" width="9" height="9" rx="1" fill="#F27F22"/>
<rect x="1027.5" y="894.5" width="9" height="9" rx="1" fill="#F27F22"/>
<rect x="1042.9" y="884.5" width="9" height="9" rx="1" fill="#F27F22"/>
<rect x="1042.9" y="901.5" width="9" height="9" rx="1" fill="#F27F22"/>
<rect x="1058.5" y="901.1" width="9" height="9" rx="1" fill="#F27F22"/>
<rect x="1042.9" y="917.5" width="9" height="9" rx="1" fill="#F27F22"/>
<path d="M1130.4 691.7L1134.7 696L1130.4 700.3L1126.1 696Z" fill="#9C9CA0"/>
<path d="M1130.4 705.3L1134.7 709.6L1130.4 713.9L1126.1 709.6Z" fill="#9C9CA0"/>
<path d="M1130.4 715.1L1134.7 719.4L1130.4 723.7L1126.1 719.4Z" fill="#9C9CA0"/>
<path d="M1130.4 742.3L1134.7 746.6L1130.4 750.9L1126.1 746.6Z" fill="#9C9CA0"/>
<path d="M1130.4 765.3L1134.7 769.6L1130.4 773.9L1126.1 769.6Z" fill="#9C9CA0"/>
<path d="M1138 817.7L1142.3 822L1138 826.3L1133.7 822Z" fill="#9C9CA0"/>
<path d="M1122.6 825.3L1126.9 829.6L1122.6 833.9L1118.3 829.6Z" fill="#9C9CA0"/>
<circle cx="1269" cy="955.6" r="4.5" fill="#000000"/>
<circle cx="1253.4" cy="973" r="4.5" fill="#000000"/>
<circle cx="1284.4" cy="970.4" r="4.5" fill="#000000"/>
<circle cx="1284.4" cy="978" r="4.5" fill="#000000"/>
<circle cx="1253.4" cy="1008" r="4.5" fill="#000000"/>
<circle cx="1269" cy="1011.6" r="4.5" fill="#000000"/>
<circle cx="1284.4" cy="1012.4" r="4.5" fill="#000000"/>
<circle cx="1253.4" cy="1019" r="4.5" fill="#000000"/>
<rect x="1339.5" y="973.5" width="9" height="9" rx="1" fill="#F27F22"/>
<rect x="1355.1" y="977.5" width="9" height="9" rx="1" fill="#F27F22"/>
<rect x="1362.9" y="991.5" width="9" height="9" rx="1" fill="#F27F22"/>
<rect x="1331.9" y="994.5" width="9" height="9" rx="1" fill="#F27F22"/>
<rect x="1347.5" y="995.9" width="9" height="9" rx="1" fill="#F27F22"/>
<rect x="1331.9" y="1019.1" width="9" height="9" rx="1" fill="#F27F22"/>
<rect x="1347.5" y="1013.5" width="9" height="9" rx="1" fill="#F27F22"/>
<rect x="1362.9" y="1013.5" width="9" height="9" rx="1" fill="#F27F22"/>
<path d="M1442.4 953.7L1446.7 958L1442.4 962.3L1438.1 958Z" fill="#9C9CA0"/>
<path d="M1427 958.7L1431.3 963L1427 967.3L1422.7 963Z" fill="#9C9CA0"/>
<path d="M1434.6 975.3L1438.9 979.6L1434.6 983.9L1430.3 979.6Z" fill="#9C9CA0"/>
<path d="M1434.6 984.7L1438.9 989L1434.6 993.3L1430.3 989Z" fill="#9C9CA0"/>
<path d="M1427 993.7L1431.3 998L1427 1002.3L1422.7 998Z" fill="#9C9CA0"/>
<path d="M1442.4 993.1L1446.7 997.4L1442.4 1001.7L1438.1 997.4Z" fill="#9C9CA0"/>
<path d="M1442.4 1004.7L1446.7 1009L1442.4 1013.3L1438.1 1009Z" fill="#9C9CA0"/>
<path d="M1427 1008.7L1431.3 1013L1427 1017.3L1422.7 1013Z" fill="#9C9CA0"/>
<polyline points="964.8,825 964.8,777 1047.6,777 1047.6,793.4" fill="none" stroke="#000000" stroke-width="3.6" stroke-linejoin="miter" stroke-linecap="butt"/>
<text transform="translate(1004.22 751.6) scale(1.0332 1)" font-size="36.13" fill="#000000">ns</text>
<polyline points="1266.2,927.4 1266.2,908.4 1357.3,908.4 1357.3,927.4" fill="none" stroke="#000000" stroke-width="3.6" stroke-linejoin="miter" stroke-linecap="butt"/>
<circle cx="1335.3" cy="878.8" r="1.75" fill="#000000"/>
<circle cx="1335.3" cy="891.4" r="1.75" fill="#000000"/>
<circle cx="1340.76" cy="881.95" r="1.75" fill="#000000"/>
<circle cx="1329.84" cy="888.25" r="1.75" fill="#000000"/>
<circle cx="1340.76" cy="888.25" r="1.75" fill="#000000"/>
<circle cx="1329.84" cy="881.95" r="1.75" fill="#000000"/>
<path d="M1335.3 891.4L1335.3 878.8M1329.84 888.25L1340.76 881.95M1329.84 881.95L1340.76 888.25" stroke="#000" stroke-width="2.2" stroke-linecap="round" fill="none"/>
<circle cx="1335.3" cy="885.1" r="1.98" fill="#000000"/>
</svg>
</body></html>
